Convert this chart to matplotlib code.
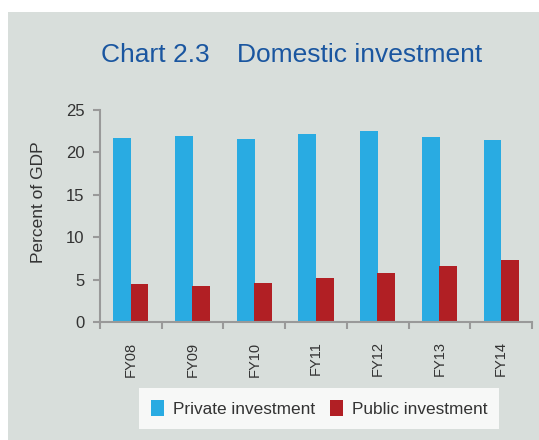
import matplotlib.pyplot as plt
from matplotlib.patches import Rectangle, Patch
import numpy as np

plt.rcParams['font.family'] = ['Liberation Sans', 'DejaVu Sans']

years = ['FY08', 'FY09', 'FY10', 'FY11', 'FY12', 'FY13', 'FY14']
private_inv = [21.7, 21.9, 21.6, 22.2, 22.5, 21.8, 21.5]
public_inv = [4.5, 4.3, 4.6, 5.2, 5.8, 6.6, 7.3]

blue = '#29abe2'
red = '#b11f24'
bg = '#d8dedb'
axis_col = '#999999'
txt = '#333333'

W, H = 539, 440
fig = plt.figure(figsize=(W / 100, H / 100), dpi=100, facecolor='white')
fig.patches.append(Rectangle((8 / W, 0), 1 - 8 / W, 1 - 12 / H,
                             transform=fig.transFigure, facecolor=bg,
                             edgecolor='none', zorder=-10))

ax = fig.add_axes([100 / W, 1 - 322 / H, 432 / W, 212 / H])
ax.set_facecolor('none')

x = np.arange(len(years))
ax.bar(x - 0.14, private_inv, width=0.29, color=blue, label='Private investment')
ax.bar(x + 0.14, public_inv, width=0.29, color=red, label='Public investment')

ax.set_xlim(-0.5, len(years) - 0.5)
ax.set_ylim(0, 25)
ax.set_yticks([0, 5, 10, 15, 20, 25])

ax.set_xticks(np.arange(len(years) + 1) - 0.5)
ax.set_xticklabels([])
ax.set_xticks(x, minor=True)
ax.set_xticklabels(years, minor=True, rotation=90, fontsize=10.5, color=txt)
ax.tick_params(axis='x', which='minor', length=0, pad=14)
ax.tick_params(axis='x', which='major', length=5, width=1.5, color=axis_col)
ax.tick_params(axis='y', length=5, width=1.5, color=axis_col, labelsize=12,
               labelcolor=txt, pad=6)

for s in ['top', 'right']:
    ax.spines[s].set_visible(False)
for s in ['left', 'bottom']:
    ax.spines[s].set_color(axis_col)
    ax.spines[s].set_linewidth(1.5)

ax.set_ylabel('Percent of GDP', fontsize=12.5, color=txt)
ax.yaxis.set_label_coords(-54 / 432, 0.566)

fig.text(101 / W, 1 - 62 / H, 'Chart 2.3', fontsize=19, color='#1a56a0',
         ha='left', va='baseline')
fig.text(237 / W, 1 - 62 / H, 'Domestic investment', fontsize=19,
         color='#1a56a0', ha='left', va='baseline')

handles = [Patch(facecolor=blue), Patch(facecolor=red)]
leg = fig.legend(handles, ['Private investment', 'Public investment'],
                 loc='center', bbox_to_anchor=(319 / W, 1 - 408.5 / H), ncol=2,
                 fontsize=12.4, frameon=True, fancybox=False, borderpad=0.7,
                 handlelength=0.76, handleheight=1.05, handletextpad=0.52,
                 columnspacing=0.87, labelcolor=txt)
leg.get_frame().set_facecolor('white')
leg.get_frame().set_edgecolor('none')

fig.savefig('out.png', dpi=100, facecolor='white')
